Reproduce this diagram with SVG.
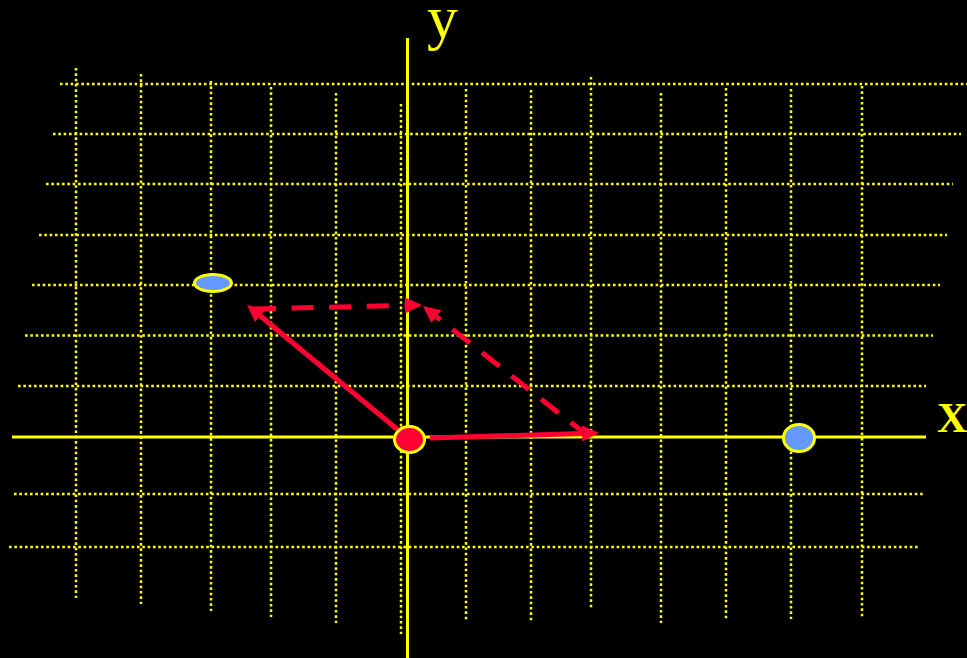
<svg xmlns="http://www.w3.org/2000/svg" width="967" height="658" viewBox="0 0 967 658">
  <style>
    .grid line { stroke: #FFFF00; stroke-width: 2.5; stroke-dasharray: 2.6 2.73; fill: none; }
    .axis { stroke: #FFFF00; stroke-width: 3; fill: none; }
    .vec { stroke: #FF0033; stroke-width: 5; fill: none; }
    .dash { stroke-dasharray: 22 15.6; }
    .pt-blue { fill: #6699FF; stroke: #FFFF00; stroke-width: 3; }
    .pt-red { fill: #FF0033; stroke: #FFFF00; stroke-width: 3; }
    .lbl { fill: #FFFF00; font-family: "Liberation Serif", "Times New Roman", serif; }
  </style>
  <defs>
    <marker id="head" markerUnits="userSpaceOnUse" viewBox="0 0 17 16" markerWidth="17" markerHeight="16" refX="0" refY="8" orient="auto">
      <path d="M0,0 L17,8 L0,16 z" fill="#FF0033"/>
    </marker>
  </defs>
  <rect x="0" y="0" width="967" height="658" fill="#000000"/>

  <g id="grid" class="grid">
    <line x1="60" y1="84" x2="967" y2="84"/>
    <line x1="53" y1="134" x2="961" y2="134"/>
    <line x1="46" y1="184" x2="953" y2="184"/>
    <line x1="39" y1="235" x2="947" y2="235"/>
    <line x1="32" y1="285" x2="940" y2="285"/>
    <line x1="25" y1="335.5" x2="933" y2="335.5"/>
    <line x1="18" y1="386" x2="926" y2="386"/>
    <line x1="14" y1="494" x2="923" y2="494"/>
    <line x1="9" y1="547" x2="918" y2="547"/>

    <line x1="76" y1="68" x2="76" y2="598"/>
    <line x1="141" y1="74" x2="141" y2="604"/>
    <line x1="211" y1="81" x2="211" y2="611"/>
    <line x1="271" y1="87" x2="271" y2="617"/>
    <line x1="336" y1="93" x2="336" y2="623"/>
    <line x1="401" y1="104" x2="401" y2="634"/>
    <line x1="466" y1="89" x2="466" y2="620"/>
    <line x1="531" y1="90" x2="531" y2="621"/>
    <line x1="591" y1="77" x2="591" y2="608"/>
    <line x1="661" y1="93" x2="661" y2="623"/>
    <line x1="726" y1="88" x2="726" y2="619"/>
    <line x1="791" y1="89" x2="791" y2="619"/>
    <line x1="862" y1="86" x2="862" y2="617"/>
  </g>

  <g id="axes">
    <line class="axis" x1="12" y1="437" x2="926" y2="437"/>
    <line class="axis" x1="407.5" y1="38" x2="407.5" y2="658"/>
  </g>

  <g id="connectors">
    <path class="vec" d="M409,439 L260.1,315.8" marker-end="url(#head)"/>
    <path class="vec" d="M430,438 L582,433.4" marker-end="url(#head)"/>
    <path class="vec dash" d="M254,309 L405,305.4" marker-end="url(#head)"/>
    <path class="vec dash" d="M588,436 L436.3,316.6" marker-end="url(#head)"/>
  </g>

  <g id="origin">
    <ellipse class="pt-red" cx="409.5" cy="439.5" rx="15" ry="13"/>
  </g>
  <g id="point-a">
    <ellipse class="pt-blue" cx="213" cy="283" rx="18.5" ry="8.5"/>
  </g>
  <g id="point-b">
    <ellipse class="pt-blue" cx="799" cy="438" rx="15.5" ry="13.5"/>
  </g>

  <g id="labels">
    <text class="lbl" x="427" y="38" font-size="62">y</text>
    <text class="lbl" x="937" y="432" font-size="42" font-weight="bold">X</text>
  </g>
</svg>
